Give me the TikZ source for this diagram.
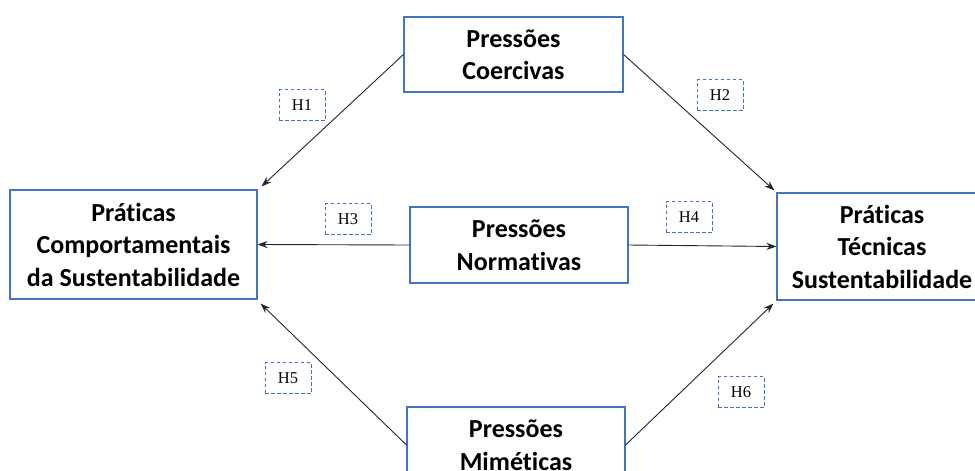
\documentclass[tikz,border=0pt]{standalone}
\usepackage{fontspec}
\setmainfont[Ligatures={NoCommon}]{Carlito}
\newfontfamily\tnr{Liberation Serif}
\usetikzlibrary{arrows.meta,calc}
\definecolor{boxblue}{HTML}{4472C4}
\begin{document}
\begin{tikzpicture}[x=1pt,y=-1pt,
  cbox/.style={draw=boxblue,line width=1.1pt,fill=white,align=center,inner sep=0pt,
    font=\fontsize{26}{32.5}\selectfont\bfseries},
  hlab/.style={draw=boxblue,dash pattern=on 3.5pt off 2.5pt,line width=0.9pt,
    minimum width=46pt,minimum height=31pt,inner sep=0pt,font=\tnr\fontsize{16.5}{18}\selectfont},
  conn/.style={draw=black!85,line width=0.9pt,-{Stealth[length=10pt,width=7pt]}}]
\useasboundingbox (0,0) rectangle (975,471);
\clip (0,0) rectangle (975,471);
\fill[white] (0,0) rectangle (975,471);
\node[cbox,minimum width=219pt,minimum height=75pt] (coer) at (513.5,54.5) {Pressões\\Coercivas};
\node[cbox,minimum width=247pt,minimum height=109pt] (left) at (133.5,244.5) {Práticas\\Comportamentais\\da Sustentabilidade};
\node[cbox,minimum width=218pt,minimum height=76pt] (norm) at (519,245) {Pressões\\Normativas};
\node[cbox,minimum width=210pt,minimum height=107pt] (right) at (882,246.5) {Práticas\\Técnicas\\Sustentabilidade};
\node[cbox,minimum width=218pt,minimum height=76pt] (mim) at (516,445) {Pressões\\Miméticas};
\coordinate (t1) at ($(left.north east)+(4,-3)$);
\coordinate (t2) at ($(right.north west)+(-2,-2)$);
\coordinate (t5) at ($(left.south east)+(3,4)$);
\coordinate (t6) at ($(right.south west)+(-3,3)$);
\draw[conn] (coer.west) -- (t1);
\draw[conn] (coer.east) -- (t2);
\draw[conn] (norm.west) -- (left.east);
\draw[conn] (norm.east) -- (right.west);
\draw[conn] (mim.west) -- (t5);
\draw[conn] (mim.east) -- (t6);
\node[hlab] (h1) at (302,105) {H1};
\node[hlab] (h2) at (720,95) {H2};
\node[hlab] (h3) at (348,219) {H3};
\node[hlab] (h4) at (689,217) {H4};
\node[hlab] (h5) at (288,378) {H5};
\node[hlab] (h6) at (741,392) {H6};
\end{tikzpicture}
\end{document}
